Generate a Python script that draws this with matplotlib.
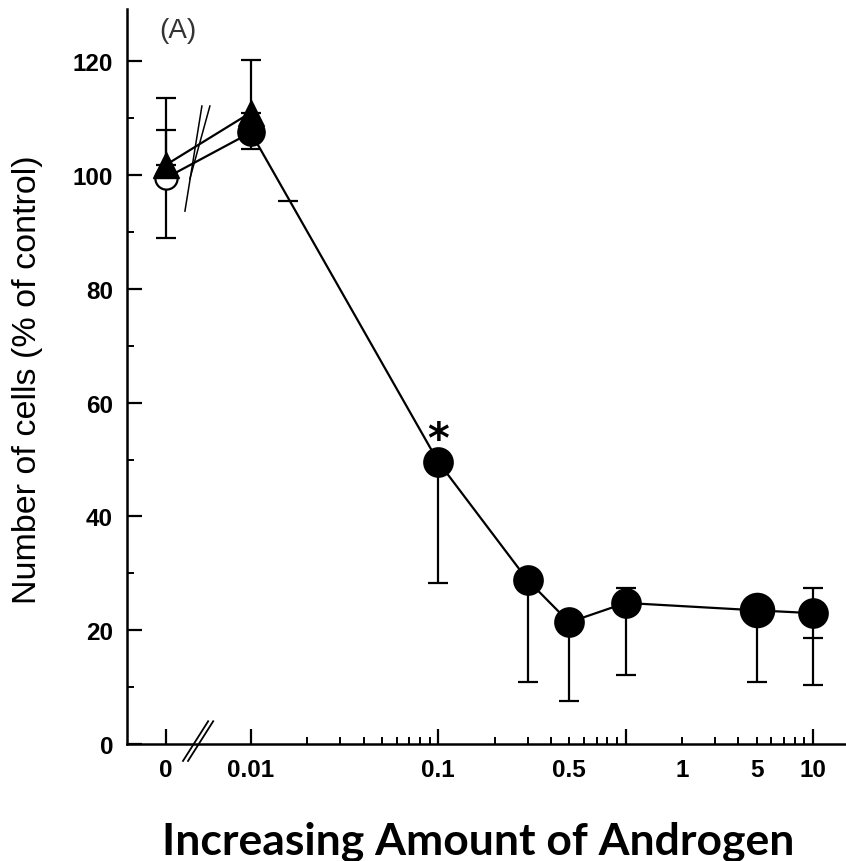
import numpy as np
import matplotlib
matplotlib.use("Agg")
import matplotlib.pyplot as plt
from matplotlib.font_manager import FontProperties
from matplotlib.ticker import FixedLocator, FixedFormatter

# androgen dose; 0 is drawn left of the axis break
dose = [0, 0.01, 0.1, 0.3, 0.5, 1, 5, 10]
cells_mean = [99.5, 107.5, 49.6, 28.8, 21.4, 24.8, 23.5, 23.0]
cells_low = [88.9, 104.6, 28.3, 10.9, 7.6, 12.1, 10.9, 10.4]
cells_high = [113.5, np.nan, np.nan, np.nan, np.nan, 27.4, np.nan, 27.4]

tri_dose = [0, 0.01]
tri_mean = [101.8, 111.0]
tri_high = [107.9, 120.2]

# leftover caps in the scanned figure
stray_dose = [0.0157, 10]
stray_y = [95.4, 18.6]

major_ticks = [0, 0.01, 0.1, 1, 10]
major_labels = ["0", "0.01", "0.1", "", "10"]
label_ticks = {0.5: "0.5", 2: "1", 5: "5"}

ZERO_POS = 0.00352  # where dose 0 sits on the log axis


def xpos(vals):
    return [ZERO_POS if v == 0 else v for v in vals]


fig = plt.figure(figsize=(8.46, 8.62), dpi=100)
ax = fig.add_axes([0.150, 0.1357, 0.850, 0.8527])
ax.set_xscale("log")
ax.set_xlim(0.00218, 15)
ax.set_ylim(0, 129.2)

lw = 1.6
x = np.array(xpos(dose))
y = np.array(cells_mean)
lo = np.array(cells_low)
hi = np.array(cells_high)

# error bars (one-sided as in the figure)
ax.errorbar(x, y, yerr=[y - lo, np.zeros_like(y)], fmt="none", ecolor="black",
            elinewidth=lw, capsize=7, capthick=lw, zorder=2)
m = ~np.isnan(hi)
ax.errorbar(x[m], y[m], yerr=[np.zeros(m.sum()), hi[m] - y[m]], fmt="none",
            ecolor="black", elinewidth=lw, capsize=7, capthick=lw, zorder=2)
tx = np.array(xpos(tri_dose))
ty = np.array(tri_mean)
ax.errorbar(tx, ty, yerr=[np.zeros(2), np.array(tri_high) - ty], fmt="none",
            ecolor="black", elinewidth=lw, capsize=7, capthick=lw, zorder=2)
ax.plot(stray_dose, stray_y, ls="none", marker="_", ms=15, mew=lw, color="black")

# lines and markers
ax.plot(x, y, color="black", lw=lw, zorder=3)
ax.plot(tx, ty, color="black", lw=lw, zorder=3)
faces = ["white"] + ["black"] * (len(dose) - 1)
sizes = [16, 19, 20.5, 20.5, 20.5, 20.5, 24, 20.5]
for xi, yi, fc, s in zip(x, y, faces, sizes):
    ax.plot(xi, yi, marker="o", ms=s, mfc=fc, mec="black", mew=lw, zorder=4)
ax.plot(tx, ty, ls="none", marker="^", ms=19, color="black", zorder=5)

ax.text(0.1, 53.5, "*", ha="center", va="center", fontsize=30, fontweight="bold")
ax.text(0.071, 0.971, "(A)", transform=ax.transAxes, ha="center", va="center",
        fontsize=20, family="Liberation Sans", color="#333333")

# axis break marks
for x0 in (0.078, 0.085):
    ax.plot([x0, x0 + 0.035], [-0.023, 0.031], transform=ax.transAxes,
            color="black", lw=1.3, clip_on=False, zorder=6)
for x0, x1, y0 in ((0.0807, 0.1043, 0.725), (0.0876, 0.1154, 0.769)):
    ax.plot([x0, x1], [y0, 0.868], transform=ax.transAxes,
            color="black", lw=1.1, zorder=6)

# spines and ticks
for s in ("top", "right"):
    ax.spines[s].set_visible(False)
for s in ("left", "bottom"):
    ax.spines[s].set_linewidth(1.8)

ax.xaxis.set_major_locator(FixedLocator(xpos(major_ticks)))
ax.xaxis.set_major_formatter(FixedFormatter(major_labels))
minors = [k * 10.0 ** d for d in (-2, -1, 0) for k in range(2, 10)]
ax.xaxis.set_minor_locator(FixedLocator(minors))
ax.xaxis.set_minor_formatter(FixedFormatter([label_ticks.get(round(v, 6), "") for v in minors]))

ax.set_yticks(range(0, 121, 20))
ax.set_yticks(range(10, 121, 20), minor=True)

tick_font = FontProperties(family="Liberation Sans", weight="bold", size=17.5)
ax.tick_params(axis="both", which="major", direction="in", length=11, width=1.6)
ax.tick_params(axis="both", which="minor", direction="in", length=5, width=1.4)
ax.tick_params(axis="x", which="both", pad=10)
ax.tick_params(axis="y", which="both", pad=10)
for lab in ax.get_xticklabels(which="both") + ax.get_yticklabels():
    lab.set_fontproperties(tick_font)

fig.text(28 / 846, 1 - 380 / 862, "Number of cells (% of control)",
         rotation=90, ha="center", va="center", family="Liberation Sans",
         fontsize=24.5)
fig.text(0.565, 0.023, "Increasing Amount of Androgen", ha="center",
         va="center", family="Lato", weight="bold", fontsize=32)

fig.savefig("out.png", dpi=100)
